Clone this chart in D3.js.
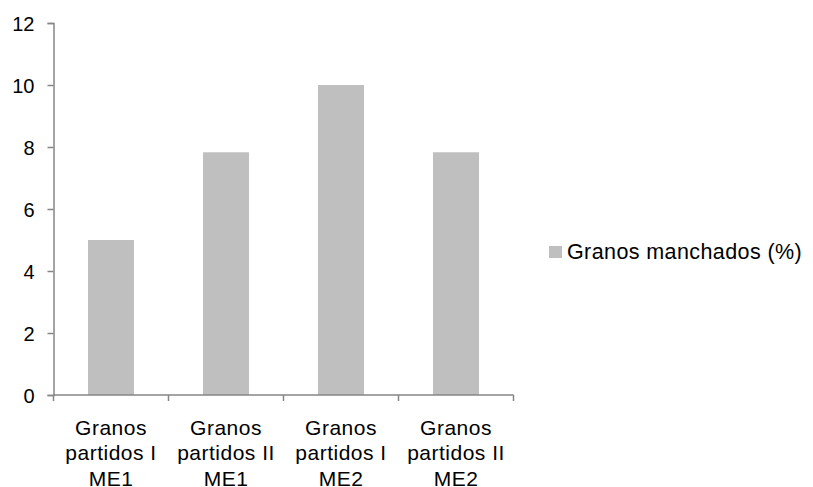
<!DOCTYPE html>
<html>
<head>
<meta charset="utf-8">
<script src="https://cdn.jsdelivr.net/npm/d3@7"></script>
<style>
  body { margin: 0; background: #fff; }
  svg { display: block; font-family: "Liberation Sans", Arial, sans-serif; }
</style>
</head>
<body>
<svg id="chart" width="813" height="487"></svg>
<script>
const categories = [
  ["Granos", "partidos I", "ME1"],
  ["Granos", "partidos II", "ME1"],
  ["Granos", "partidos I", "ME2"],
  ["Granos", "partidos II", "ME2"]
];
const values = [5.0, 7.83, 10.0, 7.83];
const seriesName = "Granos manchados (%)";
const yTicks = [0, 2, 4, 6, 8, 10, 12];

(function () {
const svg = d3.select("#chart");
const mLeft = 53.5, mRight = 513.5, mTop = 23, mBottom = 395;
const axisColor = "#868686";
const barColor = "#bfbfbf";

const x = d3.scaleBand().domain(d3.range(categories.length)).range([mLeft, mRight])
  .paddingInner(0.6).paddingOuter(0.3);
const y = d3.scaleLinear().domain([0, 12]).range([mBottom, mTop]);

// bars
svg.append("g").selectAll("rect").data(values).join("rect")
  .attr("x", (d, i) => x(i))
  .attr("width", x.bandwidth())
  .attr("y", d => y(d))
  .attr("height", d => y(0) - y(d))
  .attr("fill", barColor);

// y axis
const yAxis = svg.append("g").attr("transform", `translate(${mLeft},0)`)
  .call(d3.axisLeft(y).tickValues(yTicks).tickSize(6).tickPadding(13).tickFormat(d3.format("d")));
yAxis.select(".domain").attr("stroke", axisColor).attr("stroke-width", 1.5);
yAxis.selectAll(".tick line").attr("stroke", axisColor).attr("stroke-width", 1.5);
yAxis.selectAll(".tick text").attr("font-size", 20).attr("fill", "#000")
  .attr("font-family", "Liberation Sans, Arial, sans-serif").attr("dy", "0.36em");

// x axis (ticks at band boundaries)
const boundaries = d3.range(categories.length + 1).map(i => mLeft + i * (mRight - mLeft) / categories.length);
const xg = svg.append("g");
xg.append("line").attr("x1", mLeft).attr("x2", mRight).attr("y1", mBottom).attr("y2", mBottom)
  .attr("stroke", axisColor).attr("stroke-width", 1.5);
xg.selectAll("line.tk").data(boundaries).join("line").attr("class", "tk")
  .attr("x1", d => d).attr("x2", d => d).attr("y1", mBottom).attr("y2", mBottom + 6)
  .attr("stroke", axisColor).attr("stroke-width", 1.5);

const labels = svg.append("g").selectAll("text").data(categories).join("text")
  .attr("text-anchor", "middle")
  .attr("font-size", 21)
  .attr("letter-spacing", "0.5px")
  .attr("fill", "#000")
  .attr("transform", (d, i) => `translate(${x(i) + x.bandwidth() / 2},0)`);
labels.selectAll("tspan").data(d => d).join("tspan")
  .attr("x", 0)
  .attr("y", (d, j) => 434.5 + j * 25.5)
  .text(d => d);

// legend
const lg = svg.append("g");
lg.append("rect").attr("x", 549).attr("y", 246).attr("width", 13).attr("height", 12).attr("fill", barColor);
lg.append("text").attr("x", 567).attr("y", 259).attr("font-size", 21.5)
  .attr("letter-spacing", "0.4px").attr("fill", "#000").text(seriesName);
})();
</script>
</body>
</html>
